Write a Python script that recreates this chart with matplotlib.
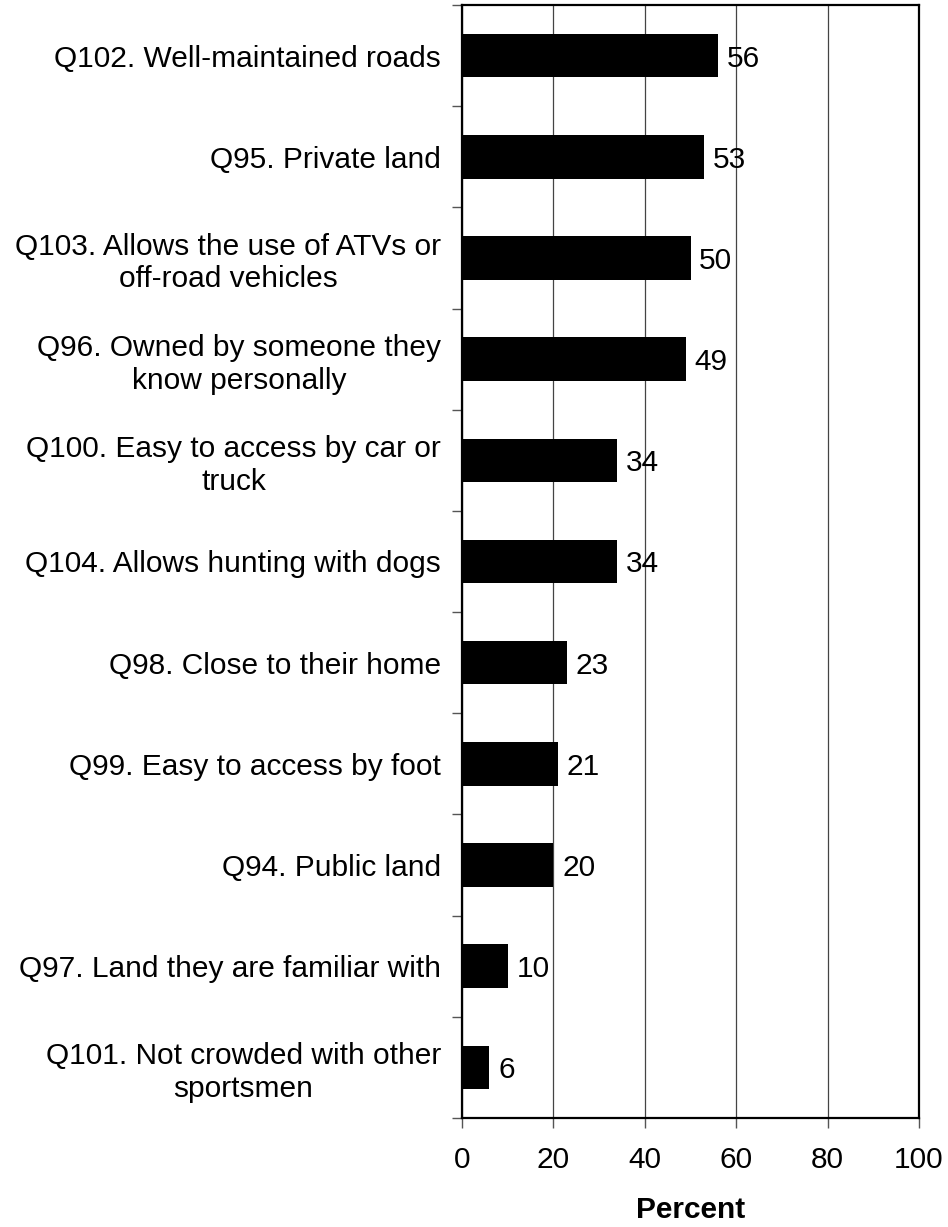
import matplotlib.pyplot as plt
import numpy as np

# --- Data (top to bottom) ---
labels = [
    "Q102. Well-maintained roads",
    "Q95. Private land",
    "Q103. Allows the use of ATVs or\noff-road vehicles",
    "Q96. Owned by someone they\nknow personally",
    "Q100. Easy to access by car or\ntruck",
    "Q104. Allows hunting with dogs",
    "Q98. Close to their home",
    "Q99. Easy to access by foot",
    "Q94. Public land",
    "Q97. Land they are familiar with",
    "Q101. Not crowded with other\nsportsmen",
]
values = [56, 53, 50, 49, 34, 34, 23, 21, 20, 10, 6]
x_ticks = [0, 20, 40, 60, 80, 100]

plt.rcParams['font.family'] = ['Liberation Sans', 'DejaVu Sans']
FS = 21.5

fig = plt.figure(figsize=(9.48, 12.27), dpi=100)
ax = fig.add_axes([462 / 948, 109 / 1227, 457 / 948, 1113 / 1227])

y = np.arange(len(labels))
ax.barh(y, values, height=0.43, color='black', zorder=3)
for yi, v in zip(y, values):
    ax.text(v + 1.9, yi, str(v), va='center_baseline', ha='left', fontsize=FS, zorder=4)

ax.set_xlim(0, 100)
ax.set_ylim(len(labels) - 0.5, -0.5)
ax.set_xticks(x_ticks)
ax.set_xticklabels([str(t) for t in x_ticks], fontsize=FS)
ax.set_yticks(y)
ax.set_yticklabels(labels, fontsize=FS, multialignment='center')
ax.set_yticks(np.arange(-0.5, len(labels) + 0.5, 1), minor=True)

ax.tick_params(axis='y', which='major', length=0, pad=15)
ax.tick_params(axis='y', which='minor', length=7, width=1, color='#555555', direction='out')
ax.tick_params(axis='x', which='major', length=7, width=1, color='#555555', direction='out', pad=13)

ax.xaxis.grid(True, color='#444444', linewidth=0.9, zorder=0)
for s in ax.spines.values():
    s.set_linewidth(1.6)

ax.set_xlabel("Percent", fontsize=FS, fontweight='bold', labelpad=16)

fig.savefig("out.png", dpi=100)
